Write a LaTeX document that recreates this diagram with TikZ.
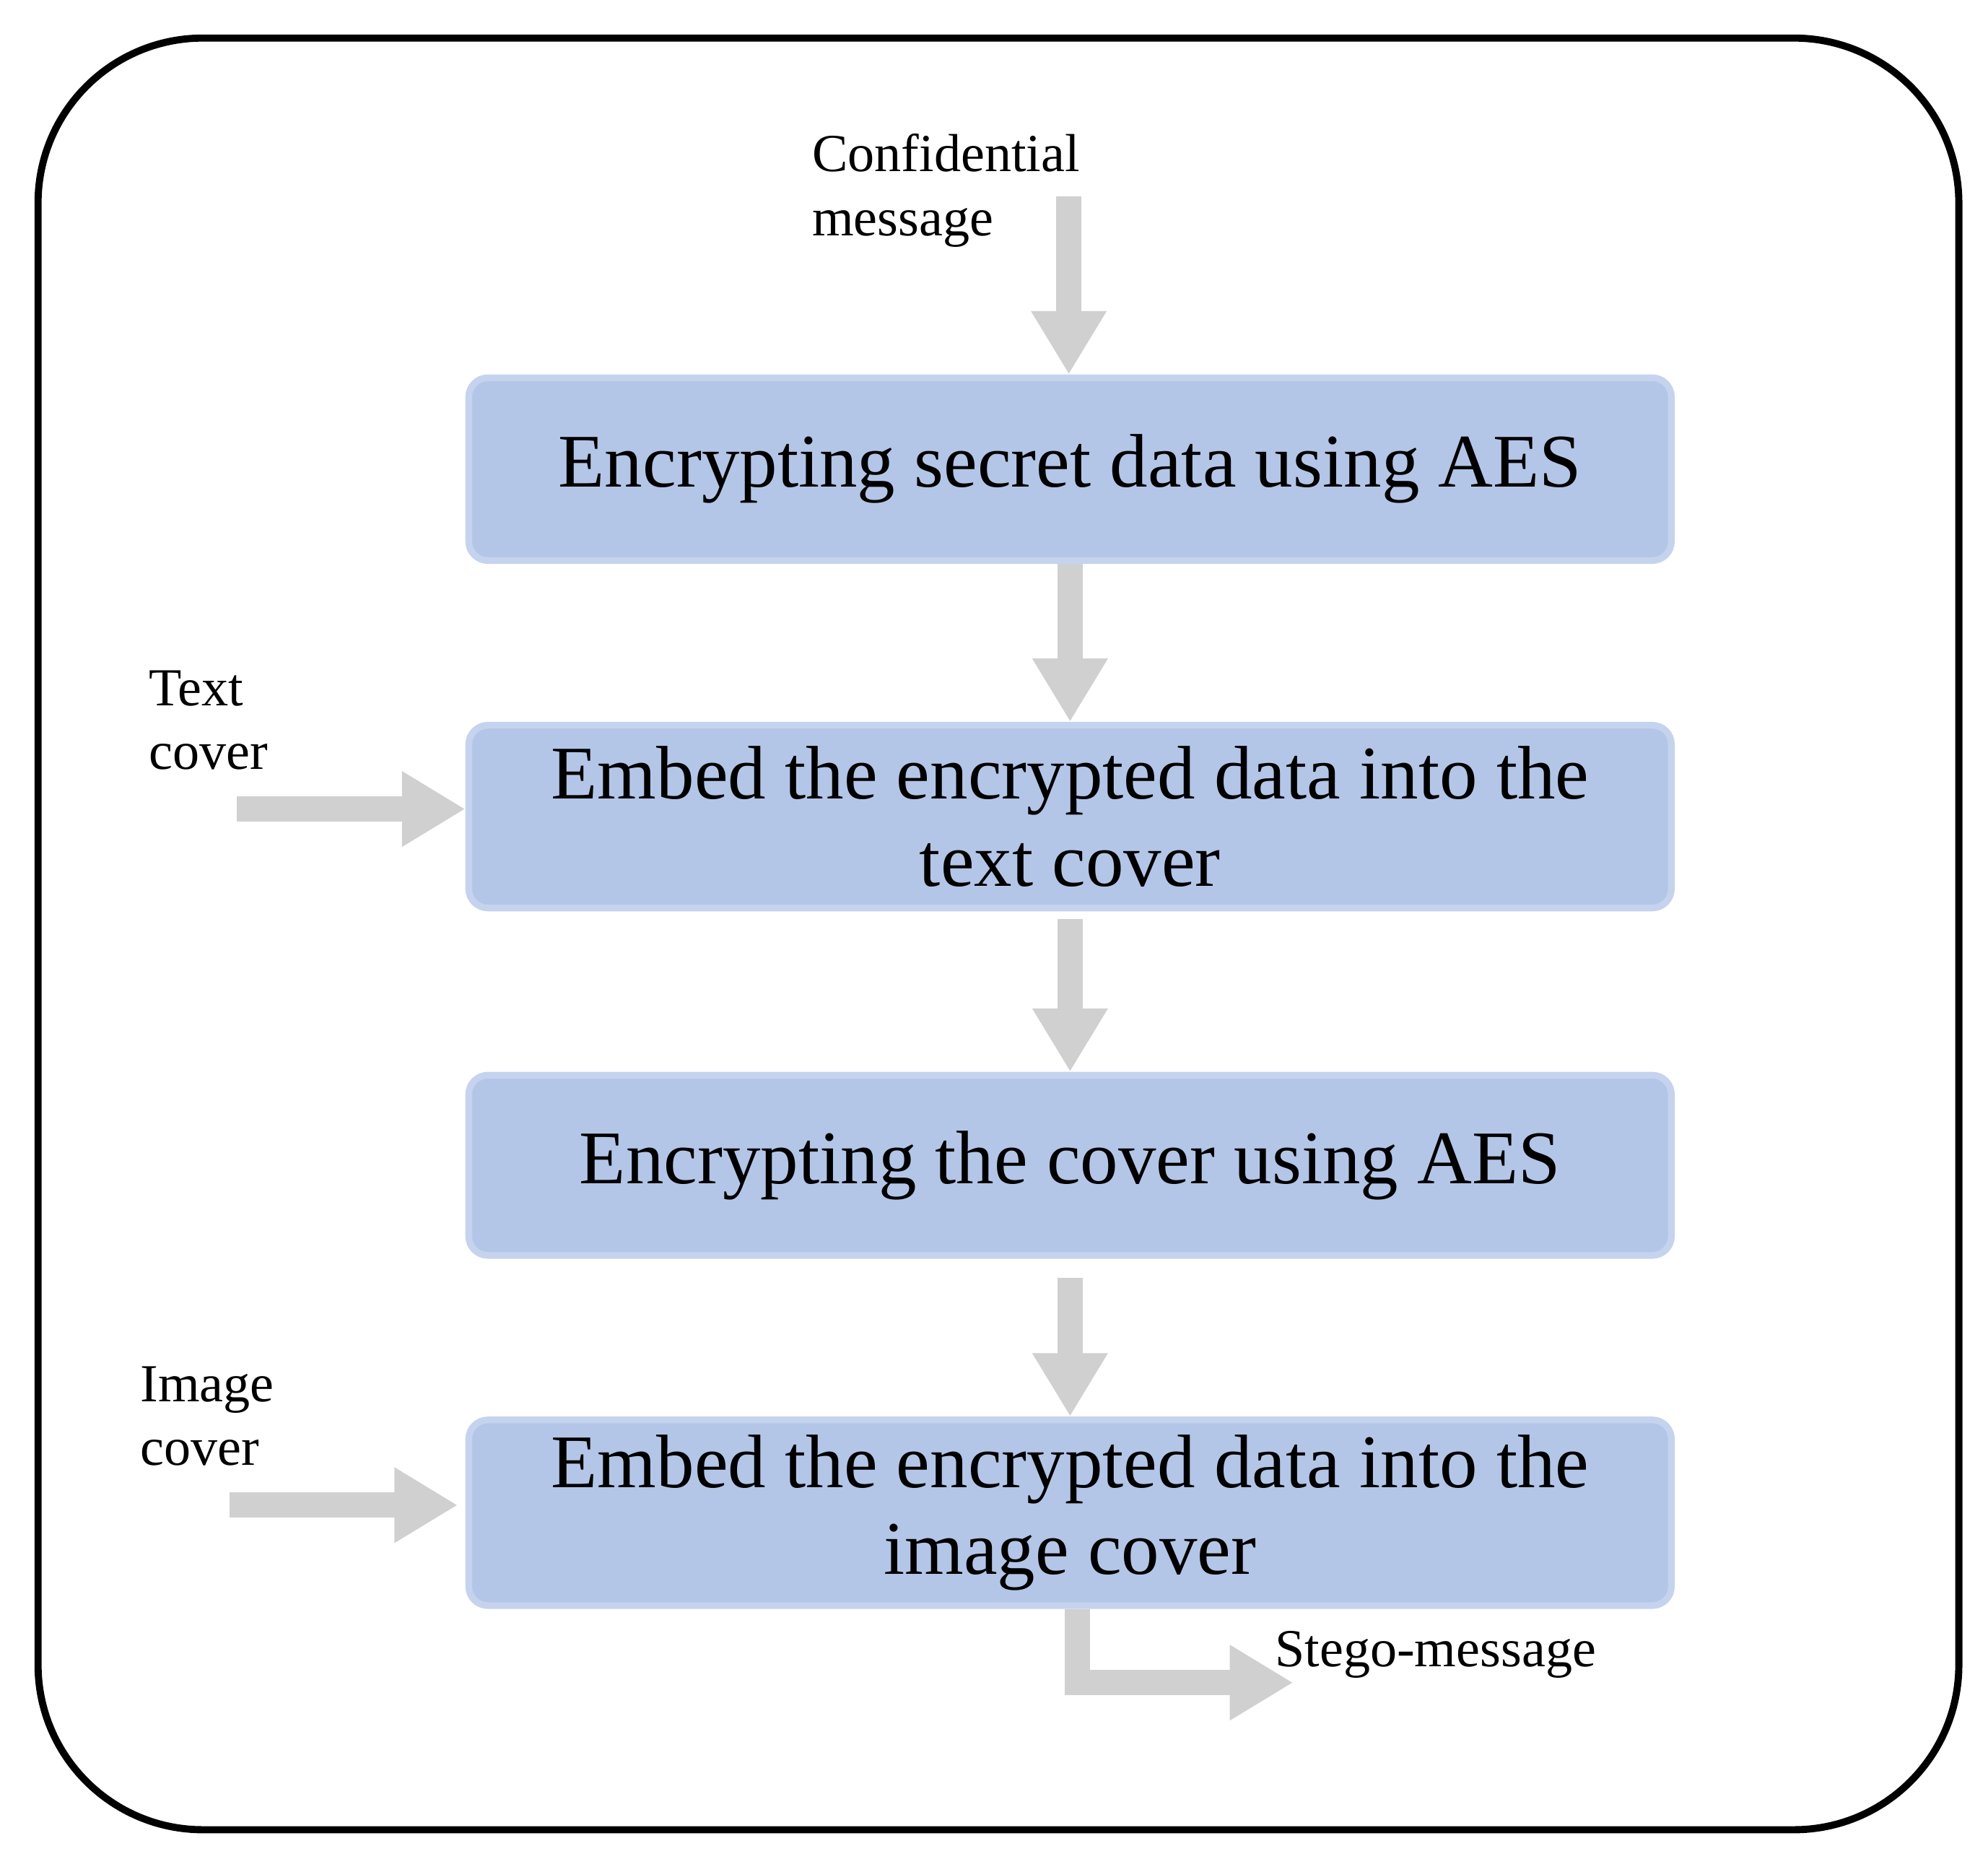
\documentclass[tikz,border=0pt]{standalone}
\usepackage{fontspec}
\setmainfont{Liberation Serif}
\usetikzlibrary{arrows.meta}
\definecolor{boxfill}{HTML}{B4C6E7}
\definecolor{boxline}{HTML}{C5D3EE}
\definecolor{arr}{HTML}{D0D0D0}
\begin{document}
\begin{tikzpicture}[x=0.01cm,y=-0.01cm,
  box/.style={draw=boxline,line width=1.5pt,fill=boxfill,rounded corners=0.15cm,minimum width=9.48cm,align=center,font=\fontsize{17}{19.5}\selectfont},
  flow/.style={draw=arr,line width=0.2cm,-{Triangle[length=0.5cm,width=0.56cm]}},
  lbl/.style={align=left,font=\fontsize{12}{14.3}\selectfont,inner sep=0pt}]
\useasboundingbox (0,0) rectangle (1568,1466);
\draw[line width=1.6pt,rounded corners=1.3cm] (30,30) rectangle (1545,1443);
\node[box,minimum height=1.44cm] (b1) at (844,370) {Encrypting secret data using AES};
\node[box,minimum height=1.44cm] (b2) at (844,644) {Embed the encrypted data into the\\text cover};
\node[box,minimum height=1.42cm] (b3) at (844,919) {Encrypting the cover using AES};
\node[box,minimum height=1.43cm] (b4) at (844,1193) {Embed the encrypted data into the\\image cover};
\node[lbl,anchor=north west] (cm) at (640,105) {Confidential\\message};
\node[lbl,anchor=north west] (tc) at (117,528) {Text\\cover};
\node[lbl,anchor=north west] (ic) at (110,1077) {Image\\cover};
\node[lbl,anchor=west] (sm) at (1005,1305) {Stego-message};
\coordinate (c0) at (843,155);
\coordinate (t0) at (187,638);
\coordinate (i0) at (181,1187);
\coordinate (s1) at (850,1327);
\coordinate (s2) at (1020,1327);
\draw[flow] (c0) -- (b1.north -| c0);
\draw[flow] (b1.south) -- (b2.north);
\draw[flow] ([yshift=-0.06cm]b2.south) -- (b3.north);
\draw[flow] ([yshift=-0.15cm]b3.south) -- (b4.north);
\draw[flow] (t0) -- (b2.west |- t0);
\draw[flow] (i0) -- ([xshift=-0.06cm]b4.west |- i0);
\draw[flow] (b4.south -| s1) -- (s1) -- (s2);
\end{tikzpicture}
\end{document}
